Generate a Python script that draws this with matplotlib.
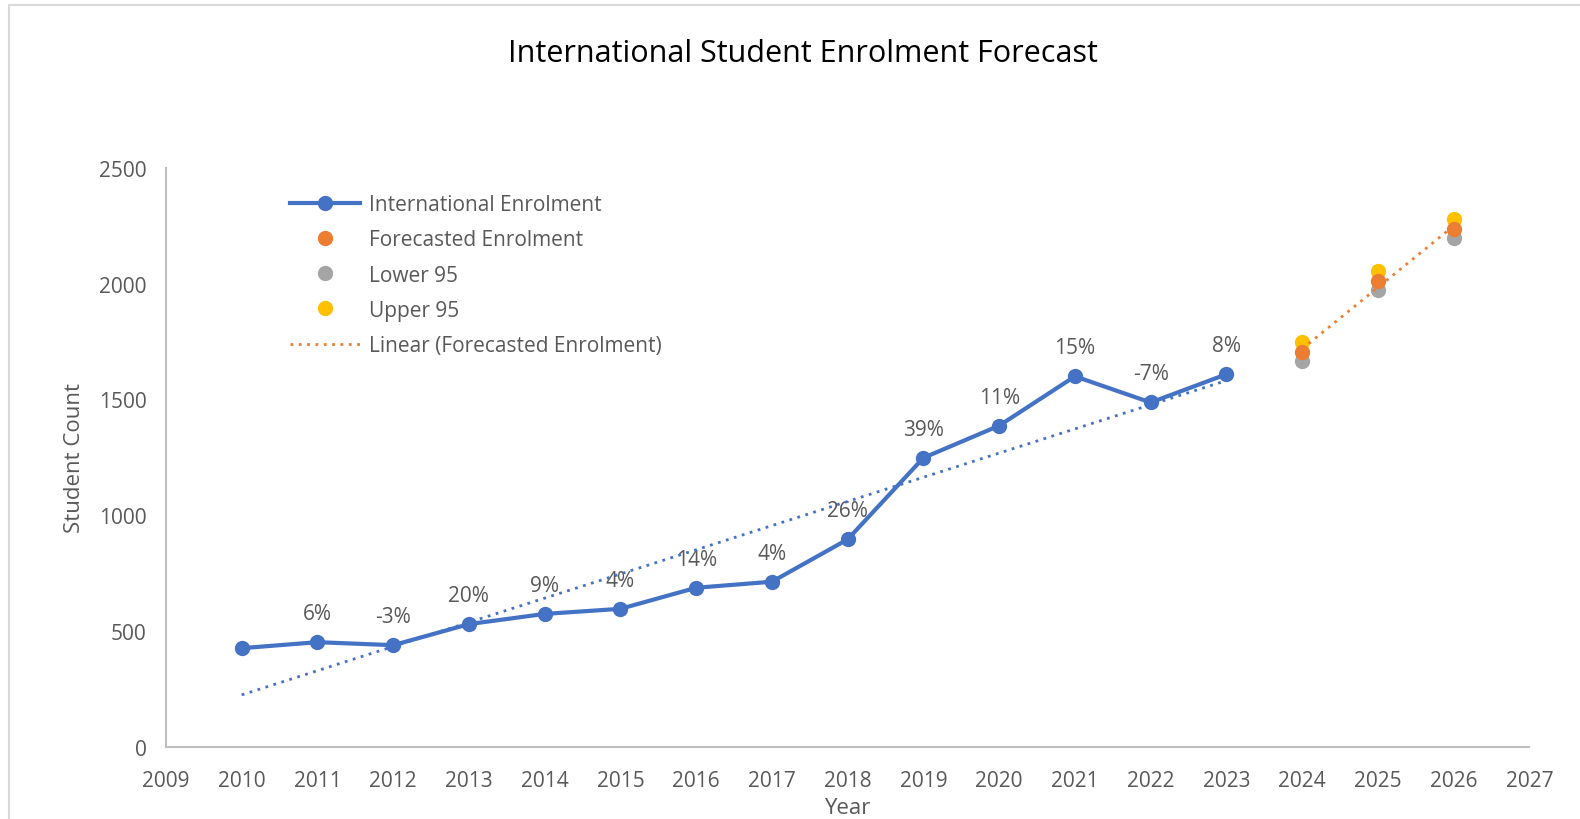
import numpy as np
import matplotlib.pyplot as plt
from matplotlib.patches import Rectangle

years = [2010, 2011, 2012, 2013, 2014, 2015, 2016, 2017, 2018, 2019, 2020, 2021, 2022, 2023]
enrol = [426, 452, 439, 530, 574, 596, 687, 713, 896, 1248, 1387, 1600, 1487, 1609]
growth = ["", "6%", "-3%", "20%", "9%", "4%", "14%", "4%", "26%", "39%", "11%", "15%", "-7%", "8%"]

fc_years = [2024, 2025, 2026]
forecast = [1704, 2013, 2235]
lower95 = [1665, 1974, 2196]
upper95 = [1748, 2057, 2278]

plt.rcParams['font.family'] = ['Open Sans', 'DejaVu Sans']
grey_txt = "#595959"
blue = "#4472C4"
orange = "#ED7D31"
grey = "#A5A5A5"
gold = "#FFC000"

fig = plt.figure(figsize=(15.8, 8.2), dpi=100)
fig.patches.append(Rectangle((0.006, -0.01), 1.1, 1.003, transform=fig.transFigure,
                             fill=False, edgecolor="#d9d9d9", linewidth=1.5))
ax = fig.add_axes([0.105, 0.088, 0.863, 0.706])

ax.plot(years, enrol, color=blue, lw=3, marker="o", ms=10, label="International Enrolment", zorder=4)
ax.plot(fc_years, forecast, ls="none", marker="o", ms=10, color=orange, label="Forecasted Enrolment", zorder=4)
ax.plot(fc_years, lower95, ls="none", marker="o", ms=10, color=grey, label="Lower 95", zorder=3)
ax.plot(fc_years, upper95, ls="none", marker="o", ms=10, color=gold, label="Upper 95", zorder=3)

# trendlines
p = np.polyfit(years, enrol, 1)
xs = np.array([years[0], years[-1]])
ax.plot(xs, np.polyval(p, xs), color=blue, lw=2, ls=(0, (1, 2)), zorder=5)
p2 = np.polyfit(fc_years, forecast, 1)
xs2 = np.array([fc_years[0], fc_years[-1]])
ax.plot(xs2, np.polyval(p2, xs2), color=orange, lw=2, ls=(0, (1, 2)), zorder=5,
        label="Linear (Forecasted Enrolment)")

for x, y, t in zip(years, enrol, growth):
    if t:
        ax.annotate(t, (x, y), xytext=(0, 13), textcoords="offset points",
                    ha="center", va="bottom", fontsize=15, color=grey_txt)

ax.set_xlim(2009, 2027)
ax.set_ylim(0, 2500)
ax.set_xticks(range(2009, 2028))
ax.set_yticks(range(0, 2501, 500))
ax.tick_params(length=0, labelsize=15, labelcolor=grey_txt)
ax.tick_params(axis="x", pad=17)
ax.tick_params(axis="y", pad=14)
for s in ["top", "right"]:
    ax.spines[s].set_visible(False)
for s in ["left", "bottom"]:
    ax.spines[s].set_color("#bfbfbf")
    ax.spines[s].set_linewidth(1.5)

ax.set_xlabel("Year", fontsize=16, color=grey_txt, labelpad=4)
ax.set_ylabel("Student Count", fontsize=16, color=grey_txt, labelpad=10)
fig.suptitle("International Student Enrolment Forecast", fontsize=22, y=0.953, x=0.508)

leg = ax.legend(loc="upper left", bbox_to_anchor=(0.077, 0.987), frameon=False, fontsize=15,
                handlelength=3.4, labelspacing=0.68, handletextpad=0.4)
for t in leg.get_texts():
    t.set_color(grey_txt)

fig.savefig("out.png")
